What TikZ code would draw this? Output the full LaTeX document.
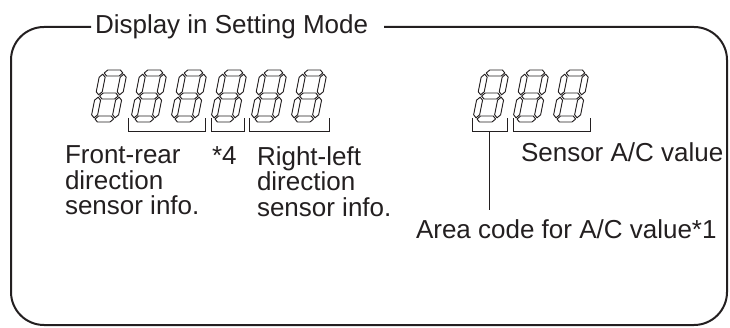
\documentclass[tikz,border=0pt]{standalone}
\usepackage{fontspec}
\setmainfont{Liberation Sans}
\usetikzlibrary{calc,positioning}
\definecolor{ink}{RGB}{35,31,32}
\tikzstyle{frame} =[line width=2pt, rounded corners=33pt, draw=ink]
\tikzstyle{brace} =[line width=0.9pt, draw=ink]
\tikzstyle{segline}=[line width=0.95pt, draw=ink, line join=round]
\tikzstyle{txt}   =[inner sep=0pt, outer sep=0pt, text=ink, align=left,
                    font=\fontsize{26}{25.5}\selectfont]
\tikzset{digit/.pic={
  \begin{scope}[xslant=0.2]
    \foreach \v in {0,23,46}
      \draw[segline] (1.2,\v) -- (4.2,\v-3) -- (16.8,\v-3) -- (19.8,\v)
                     -- (16.8,\v+3) -- (4.2,\v+3) -- cycle;
    \foreach \u/\v in {0/0,0/23,21/0,21/23}
      \draw[segline] (\u,\v+1.2) -- (\u+3,\v+4.2) -- (\u+3,\v+18.8)
                     -- (\u,\v+21.8) -- (\u-3,\v+18.8) -- (\u-3,\v+4.2) -- cycle;
  \end{scope}}}

\begin{document}
\begin{tikzpicture}[x=1pt, y=-1pt]
    \useasboundingbox (0,0) rectangle (730,328);
    % frame with title
    \node[txt, anchor=west] (title) at (95,27) {Display in Setting Mode};
    \draw[frame] ([xshift=-4pt]title.west) -- (11,27) -- (11,325)
                 -- (727,325) -- (727,27) -- ([xshift=16pt]title.east);
    % digits
    \foreach \x in {103,143,183,223,263,303}
        \pic at (\x,73) {digit};
    \foreach \x in {485,525,565}
        \pic at (\x,73) {digit};
    % brackets
    \foreach \a/\b in {128/205, 211/244, 249/329, 472/507, 513/590}
        \draw[brace] (\a,118) |- (\b,131) -- (\b,118);
    \coordinate (r1) at (489.5,131);
    % texts
    \node[txt, anchor=north west] (fr) at (65,146) {Front-rear\\direction\\sensor info.};
    \node[txt, anchor=north west] (s4) at (212,146.5) {*4};
    \node[txt, anchor=north west] (rl) at (257,146.5) {Right-left\\direction\\sensor info.};
    \node[txt, anchor=north west] (sac) at (521,142.5) {Sensor A/C value};
    \node[txt, anchor=north west] (area) at (416,220) {Area code for A/C value*1};
    \draw[brace] (r1) -- ([yshift=10pt]r1 |- area.north);
\end{tikzpicture}
\end{document}
